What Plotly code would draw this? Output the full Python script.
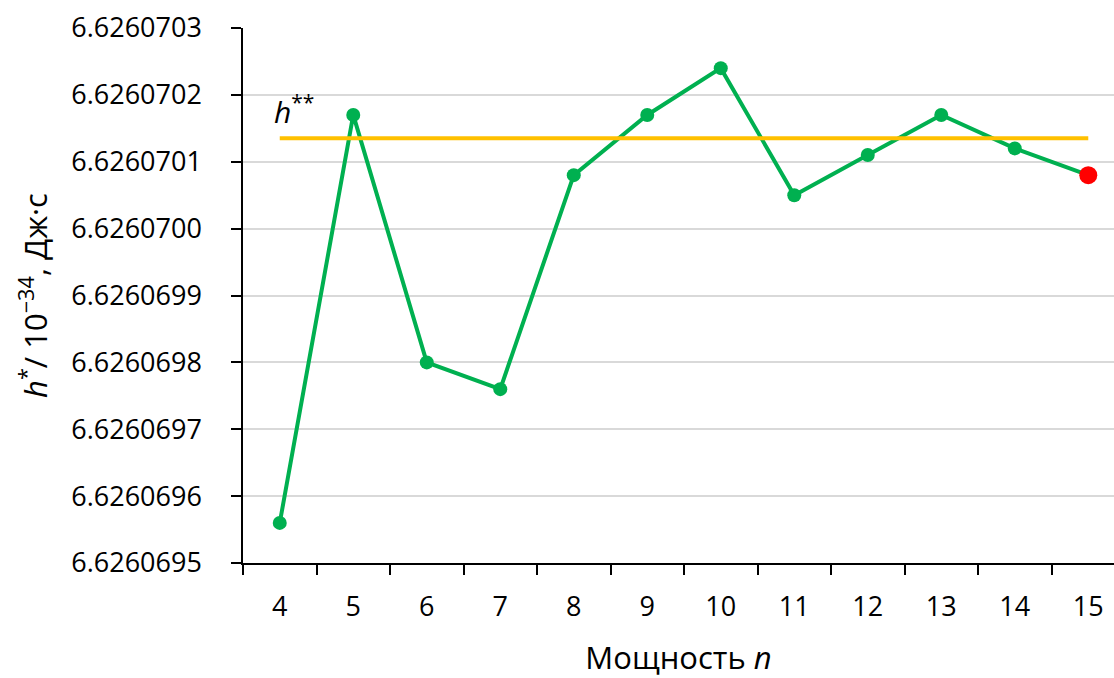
import plotly.graph_objects as go

# Data
n_values = ["4", "5", "6", "7", "8", "9", "10", "11", "12", "13", "14", "15"]
h_star = [6.62606956, 6.62607017, 6.62606980, 6.62606976, 6.62607008, 6.62607017,
          6.62607024, 6.62607005, 6.62607011, 6.62607017, 6.62607012, 6.62607008]
h_star_star = 6.626070135
y_ticks = [6.6260695, 6.6260696, 6.6260697, 6.6260698, 6.6260699,
           6.6260700, 6.6260701, 6.6260702, 6.6260703]
y_tick_text = ["6.6260695", "6.6260696", "6.6260697", "6.6260698", "6.6260699",
               "6.6260700", "6.6260701", "6.6260702", "6.6260703"]

FONT = "Open Sans"
GREEN = "#00B050"
YELLOW = "#FFC000"

fig = go.Figure()

# h* series
fig.add_trace(go.Scatter(
    x=n_values, y=h_star, mode="lines+markers",
    line=dict(color=GREEN, width=4),
    marker=dict(color=GREEN, size=14),
    showlegend=False,
))

# h** horizontal line
fig.add_trace(go.Scatter(
    x=[n_values[0], n_values[-1]], y=[h_star_star, h_star_star],
    mode="lines", line=dict(color=YELLOW, width=4), hoverinfo="skip",
    showlegend=False,
))

# Last point highlighted
fig.add_trace(go.Scatter(
    x=[n_values[-1]], y=[h_star[-1]], mode="markers",
    marker=dict(color="#FF0000", size=18),
    showlegend=False,
))

fig.add_annotation(
    x=0, y=h_star_star, xref="x", yref="y",
    text="<i>h</i><sup>**</sup>", showarrow=False,
    xanchor="left", yanchor="bottom", xshift=-8, yshift=4,
    font=dict(family=FONT, size=30, color="black"),
)

fig.update_layout(
    width=1114, height=678,
    margin=dict(l=243, r=0, t=28, b=115),
    paper_bgcolor="white", plot_bgcolor="white",
    font=dict(family=FONT, size=28, color="black"),
    xaxis=dict(
        type="category",
        categoryorder="array", categoryarray=n_values,
        range=[-0.5, 11.35],
        tickson="boundaries",
        ticks="outside", ticklen=10, tickwidth=1.5, tickcolor="black",
        showline=True, linecolor="black", linewidth=1.5,
        showgrid=False, zeroline=False,
        tickfont=dict(family=FONT, size=27),
        ticklabelstandoff=19,
        title=dict(text="Мощность <i>n</i>", font=dict(family=FONT, size=31), standoff=24),
    ),
    yaxis=dict(
        range=[6.6260695, 6.6260703],
        tickmode="array", tickvals=y_ticks, ticktext=y_tick_text,
        ticks="outside", ticklen=10, tickwidth=1.5, tickcolor="black",
        showline=True, linecolor="black", linewidth=1.5,
        showgrid=True, gridcolor="#D9D9D9", gridwidth=1.5,
        zeroline=False,
        tickfont=dict(family=FONT, size=27),
        ticklabelstandoff=24,
        title=dict(text="<i>h</i><sup>*</sup>/ 10<sup>−34</sup>, Дж·с",
                   font=dict(family=FONT, size=31), standoff=14),
    ),
)

fig.write_html("out.html")
